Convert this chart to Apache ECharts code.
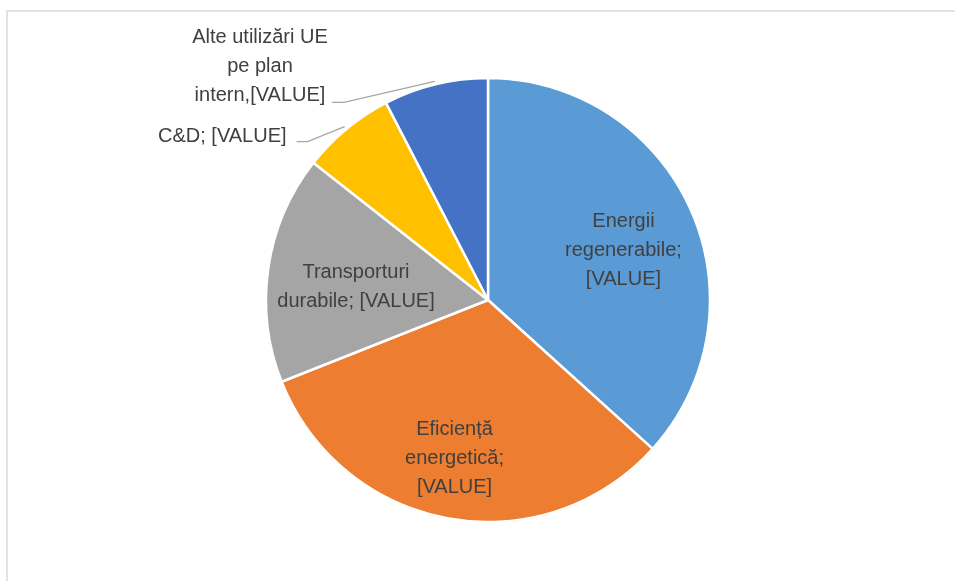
<!DOCTYPE html>
<html>
<head>
<meta charset="utf-8">
<style>
	html, body { margin: 0; padding: 0; background: #fff; }
	#chart { width: 955px; height: 581px; }
</style>
<script src="https://cdn.jsdelivr.net/npm/echarts@6/dist/echarts.min.js"></script>
</head>
<body>
<div id="chart"></div>
<script>
	// date (procente estimate)
	var categories = ['Energii regenerabile', 'Eficiență energetică', 'Transporturi durabile', 'C&D', 'Alte utilizări UE pe plan intern']
	var values = [36.7, 32.3, 16.6, 6.8, 7.6]
	var labelTexts = [
		'Energii\nregenerabile;\n[VALUE]',
		'Eficiență\nenergetică;\n[VALUE]',
		'Transporturi\ndurabile; [VALUE]',
		'C&D; [VALUE]',
		'Alte utilizări UE\npe plan\nintern,[VALUE]'
	]
	var colors = ['#5B9BD5', '#ED7D31', '#A5A5A5', '#FFC000', '#4472C4']

	var CX = 488, CY = 300, R = 222
	// etichetele interioare: scalare radiala fata de r/2 + mic ajustaj
	var insideScale = [1.3, 1.45, 1.17]
	var insideNudge = [[0, 11], [-4, -4], [0, 6]]

	// unghiul de mijloc al fiecarei felii (grade, in sensul acelor de la ora 12)
	var total = values.reduce(function (a, b) { return a + b }, 0)
	var midAngles = []
	var acc = 0
	values.forEach(function (v) {
		midAngles.push((acc + v / 2) / total * 360)
		acc += v
	})

	var chart = echarts.init(document.getElementById('chart'))
	chart.setOption({
		backgroundColor: '#fff',
		animation: false,
		graphic: [{
			type: 'rect',
			shape: { x: 7, y: 11, width: 1200, height: 1200 },
			style: { fill: 'none', stroke: '#D9D9D9', lineWidth: 1.5 },
			silent: true
		}],
		series: [{
			type: 'pie',
			center: [CX, CY],
			radius: R,
			startAngle: 90,
			clockwise: true,
			avoidLabelOverlap: false,
			itemStyle: { borderColor: '#fff', borderWidth: 2.5 },
			label: {
				fontFamily: 'Liberation Sans',
				fontSize: 20,
				lineHeight: 29,
				color: '#404040',
				align: 'center'
			},
			labelLine: {
				lineStyle: { color: '#A6A6A6', width: 1.3 }
			},
			data: categories.map(function (name, i) {
				var inside = i < 3
				return {
					name: name,
					value: values[i],
					itemStyle: { color: colors[i] },
					label: {
						position: inside ? 'inside' : 'outside',
						formatter: labelTexts[i]
					},
					labelLine: { show: !inside, length: 20, length2: 10 }
				}
			}),
			labelLayout: function (p) {
				var i = p.dataIndex
				var r = p.labelRect
				var lx = r.x + r.width / 2, ly = r.y + r.height / 2
				if (i < 3) {
					var k = insideScale[i]
					return {
						x: CX + (lx - CX) * k + insideNudge[i][0],
						y: CY + (ly - CY) * k + insideNudge[i][1],
						align: 'center', verticalAlign: 'middle'
					}
				}
				var a = midAngles[i] * Math.PI / 180
				var p0 = [CX + (R + 3) * Math.sin(a), CY - (R + 3) * Math.cos(a)]
				var p1, p2, x, y
				if (i === 3) {
					p1 = [p0[0] - 37, p0[1] + 15]
					p2 = [p1[0] - 11, p1[1]]
					x = p2[0] - 10 - r.width / 2
					y = p2[1] - 5
				} else {
					p1 = [p0[0] - 91, p0[1] + 21]
					p2 = [p1[0] - 12, p1[1]]
					x = p2[0] - 4 - r.width / 2
					y = p2[1] - 36
				}
				return { x: x, y: y, align: 'center', verticalAlign: 'middle', labelLinePoints: [p0, p1, p2] }
			}
		}]
	})
</script>
</body>
</html>
